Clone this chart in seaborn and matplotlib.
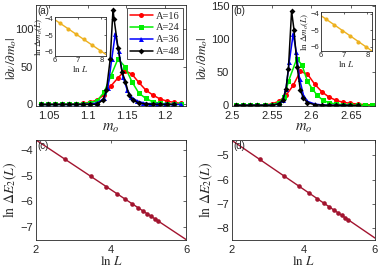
import numpy as np
import pandas as pd
import matplotlib
matplotlib.use("Agg")
import matplotlib.pyplot as plt
import seaborn as sns

# ---- panel (a): |dnu/dm_o| vs m_o ----
a_labels = ["A=16", "A=24", "A=36", "A=48"]
a_x_red = [1.040, 1.049, 1.058, 1.067, 1.076, 1.085, 1.094, 1.103, 1.112, 1.121, 1.130,
           1.139, 1.148, 1.157, 1.166, 1.175, 1.184, 1.193, 1.202, 1.211, 1.220]
a_y_red = [0, 0.1, 0.2, 0.3, 0.5, 0.8, 1.5, 3, 6, 12.5, 24.5,
           35, 44.5, 40, 29, 19, 12.5, 7.5, 4.5, 2.8, 1.5]
a_x_green = [1.040, 1.049, 1.058, 1.067, 1.076, 1.085, 1.094, 1.103, 1.112, 1.121, 1.130,
             1.139, 1.148, 1.157, 1.166, 1.175, 1.184, 1.193, 1.202, 1.211, 1.220]
a_y_green = [0, 0, 0, 0.1, 0.2, 0.4, 0.8, 2, 5, 16, 38,
             60, 50, 30, 15, 8, 3.5, 1.7, 0.8, 0.4, 0.2]
a_x_blue = [1.040, 1.049, 1.058, 1.067, 1.076, 1.085, 1.094, 1.103, 1.112, 1.121, 1.126,
            1.131, 1.1355, 1.140, 1.1456, 1.151, 1.1565, 1.163, 1.172, 1.181, 1.190,
            1.200, 1.210, 1.220]
a_y_blue = [0, 0, 0, 0, 0, 0, 0.2, 0.6, 2, 8, 22,
            60, 93, 70, 36, 19, 10, 5, 2, 0.8, 0.3,
            0.1, 0, 0]
a_x_black = [1.040, 1.049, 1.058, 1.067, 1.076, 1.085, 1.094, 1.103, 1.112, 1.1197, 1.1241,
             1.129, 1.1326, 1.1339, 1.139, 1.1443, 1.1487, 1.1534, 1.1585, 1.166, 1.175,
             1.184, 1.193, 1.202, 1.211]
a_y_black = [0, 0, 0, 0, 0, 0, 0, 0, 0.3, 6, 19,
             60, 125, 113, 75, 43, 30, 12, 5.6, 2, 0.7,
             0.2, 0, 0, 0]

# ---- panel (b) ----
b_x_red = [2.505, 2.514, 2.523, 2.532, 2.541, 2.550, 2.559, 2.568, 2.577, 2.586,
           2.595, 2.604, 2.613, 2.622, 2.631, 2.640, 2.649, 2.658, 2.667, 2.676]
b_y_red = [0, 0, 0.2, 0.4, 0.8, 2, 6, 15, 30, 51,
           47, 32, 20.5, 12.5, 7.5, 4.5, 3, 2, 1.2, 0.7]
b_x_green = [2.505, 2.514, 2.523, 2.532, 2.541, 2.550, 2.559, 2.566, 2.571, 2.5815,
             2.588, 2.595, 2.601, 2.607, 2.614, 2.622, 2.631, 2.640, 2.649, 2.658,
             2.667, 2.676]
b_y_green = [0, 0, 0, 0.1, 0.3, 1, 4, 13, 36, 70,
             61, 36, 25, 15.5, 8, 4, 2, 1, 0.5, 0.2,
             0.1, 0]
b_x_blue = [2.505, 2.514, 2.523, 2.532, 2.541, 2.550, 2.559, 2.564, 2.568, 2.572,
            2.577, 2.581, 2.585, 2.590, 2.595, 2.604, 2.613, 2.622, 2.631, 2.640, 2.649]
b_y_blue = [0, 0, 0, 0, 0, 0.3, 2, 8, 25, 65,
            107, 80, 40, 15, 6, 2, 0.6, 0.2, 0, 0, 0]
b_x_black = [2.505, 2.514, 2.523, 2.532, 2.541, 2.550, 2.559, 2.564, 2.568, 2.571,
             2.575, 2.578, 2.582, 2.586, 2.590, 2.595, 2.604, 2.613, 2.622, 2.631,
             2.640, 2.649, 2.658]
b_y_black = [0, 0, 0, 0, 0, 0, 2, 8, 25, 55,
             142, 114, 58, 23, 10.5, 4, 1, 0.3, 0, 0,
             0, 0, 0]

# ---- insets: ln dm_o(L) vs ln L ----
ia_lnL = [6.21, 6.55, 6.91, 7.24, 7.60, 7.94]
ia_lndm = [-4.27, -4.60, -4.94, -5.25, -5.59, -5.92]
ia_fit_x = [6.0, 8.2]
ia_fit_y = [-4.07, -6.16]
ib_lnL = [6.21, 6.55, 6.91, 7.24, 7.60, 7.94]
ib_lndm = [-4.33, -4.68, -5.02, -5.34, -5.69, -6.02]
ib_fit_x = [6.0, 8.2]
ib_fit_y = [-4.12, -6.25]

# ---- panels (c), (d): ln dE_2(L) vs ln L ----
cd_lnL = [2.773, 3.466, 3.871, 4.159, 4.382, 4.564, 4.718, 4.852, 4.970, 5.075, 5.170, 5.257]
c_lnE = [-4.354, -5.029, -5.424, -5.705, -5.922, -6.100, -6.250, -6.381, -6.496, -6.598, -6.691, -6.776]
c_fit_x = [2.0, 6.0]
c_fit_y = [-3.60, -7.50]
d_lnE = [-5.173, -5.866, -6.271, -6.559, -6.782, -6.964, -7.118, -7.252, -7.370, -7.475, -7.570, -7.657]
d_fit_x = [2.0, 6.0]
d_fit_y = [-4.40, -8.40]

colors = ["#ff0000", "#00ee00", "#0000ff", "#000000"]
marks = ["o", "s", "^", "D"]
orange = "#edb120"
darkred = "#a2142f"

sns.set_theme(style="white")
plt.rcParams["font.family"] = ["Liberation Sans", "DejaVu Sans"]
plt.rcParams["mathtext.fontset"] = "stix"
plt.rcParams["xtick.direction"] = "in"
plt.rcParams["ytick.direction"] = "in"
plt.rcParams["xtick.top"] = True
plt.rcParams["ytick.right"] = True
plt.rcParams["xtick.major.size"] = 2.5
plt.rcParams["ytick.major.size"] = 2.5
plt.rcParams["xtick.major.width"] = 0.5
plt.rcParams["ytick.major.width"] = 0.5
plt.rcParams["axes.linewidth"] = 0.6
plt.rcParams["axes.edgecolor"] = "#262626"
plt.rcParams["xtick.major.pad"] = 3.5
plt.rcParams["ytick.major.pad"] = 2


def long_df(xs, ys, labels):
    frames = []
    for x, y, lab in zip(xs, ys, labels):
        frames.append(pd.DataFrame({"x": x, "y": y, "A": lab}))
    return pd.concat(frames, ignore_index=True)


def peak_panel(ax, df):
    for lab, c, m in zip(a_labels, colors, marks):
        sub = df[df["A"] == lab]
        sns.lineplot(data=sub, x="x", y="y", ax=ax, color=c, marker=m,
                     markersize=3.6 if m != "D" else 3.0, markeredgewidth=0,
                     linewidth=1.1, errorbar=None, label=lab, sort=True)
    ax.tick_params(labelsize=8)
    ax.set_xlabel("$m_o$", fontsize=10.5, labelpad=0)
    ax.set_ylabel(r"$|\partial\nu/\partial m_o|$", fontsize=9.5)


def inset(ax, xs, ys, fx, fy):
    sns.lineplot(x=fx, y=fy, ax=ax, color=orange, linewidth=1.0)
    sns.scatterplot(x=xs, y=ys, ax=ax, color=orange, s=9, linewidth=0, zorder=3)
    ax.set_xlim(6, 8.2)
    ax.set_ylim(-6.25, -3.9)
    ax.set_xticks([6, 7, 8])
    ax.set_yticks([-6, -5, -4])
    ax.tick_params(labelsize=5.5, length=1.5, pad=1)
    ax.set_xlabel(r"$\ln\,L$", fontsize=6.5, labelpad=0)
    ax.set_ylabel(r"$\ln\,\Delta m_o(L)$", fontsize=6.5, labelpad=0)


def scaling_panel(ax, x, y, fx, fy):
    sns.lineplot(x=fx, y=fy, ax=ax, color=darkred, linewidth=1.0)
    sns.scatterplot(x=x, y=y, ax=ax, color=darkred, s=11, linewidth=0, zorder=3)
    ax.set_xlim(2, 6)
    ax.set_xticks([2, 4, 6])
    ax.tick_params(labelsize=8)
    ax.set_xlabel(r"$\ln\,L$", fontsize=9.5, labelpad=0)
    ax.set_ylabel(r"$\ln\,\Delta E_2(L)$", fontsize=10, labelpad=1)


W, H = 381, 268
fig = plt.figure(figsize=(W / 100, H / 100), dpi=100)


def box(l, t, r, b):
    return [l / W, 1 - b / H, (r - l) / W, (b - t) / H]


ax_a = fig.add_axes(box(36, 5, 186, 106))
ax_b = fig.add_axes(box(232, 5, 375, 106))
ax_c = fig.add_axes(box(36, 140, 186, 240))
ax_d = fig.add_axes(box(232, 140, 375, 240))

df_a = long_df([a_x_red, a_x_green, a_x_blue, a_x_black],
               [a_y_red, a_y_green, a_y_blue, a_y_black], a_labels)
peak_panel(ax_a, df_a)
ax_a.set_xlim(1.033, 1.227)
ax_a.set_ylim(-2, 131)
ax_a.set_xticks([1.05, 1.1, 1.15, 1.2])
ax_a.set_xticklabels(["1.05", "1.1", "1.15", "1.2"])
ax_a.set_yticks([0, 50, 100])
ax_a.yaxis.set_label_coords(-0.115, 0.47)
leg = ax_a.legend(loc="upper right", prop={"family": "Liberation Serif", "size": 7.5},
                  frameon=True, fancybox=False, edgecolor="black", handlelength=2.2,
                  borderpad=0.3, labelspacing=0.25, handletextpad=0.3, borderaxespad=0.3)
leg.get_frame().set_linewidth(0.6)

df_b = long_df([b_x_red, b_x_green, b_x_blue, b_x_black],
               [b_y_red, b_y_green, b_y_blue, b_y_black], a_labels)
peak_panel(ax_b, df_b)
ax_b.legend().remove()
ax_b.set_xlim(2.5, 2.68)
ax_b.set_ylim(-1, 151)
ax_b.set_xticks([2.5, 2.55, 2.6, 2.65])
ax_b.set_xticklabels(["2.5", "2.55", "2.6", "2.65"])
ax_b.set_yticks([0, 50, 100, 150])
ax_b.yaxis.set_label_coords(-0.155, 0.47)

ins_a = fig.add_axes(box(55, 17, 106, 56))
inset(ins_a, ia_lnL, ia_lndm, ia_fit_x, ia_fit_y)
ins_b = fig.add_axes(box(321, 12, 372, 51))
inset(ins_b, ib_lnL, ib_lndm, ib_fit_x, ib_fit_y)

scaling_panel(ax_c, cd_lnL, c_lnE, c_fit_x, c_fit_y)
ax_c.set_ylim(-7.52, -3.6)
ax_c.set_yticks([-7, -6, -5, -4])
scaling_panel(ax_d, cd_lnL, d_lnE, d_fit_x, d_fit_y)
ax_d.set_ylim(-8.48, -4.38)
ax_d.set_yticks([-8, -7, -6, -5])

for ax, lab in zip([ax_a, ax_b, ax_c, ax_d], ["(a)", "(b)", "(c)", "(d)"]):
    ax.text(0.01, 0.99, lab, transform=ax.transAxes, ha="left", va="top", fontsize=7)

fig.savefig("out.png", dpi=100)
